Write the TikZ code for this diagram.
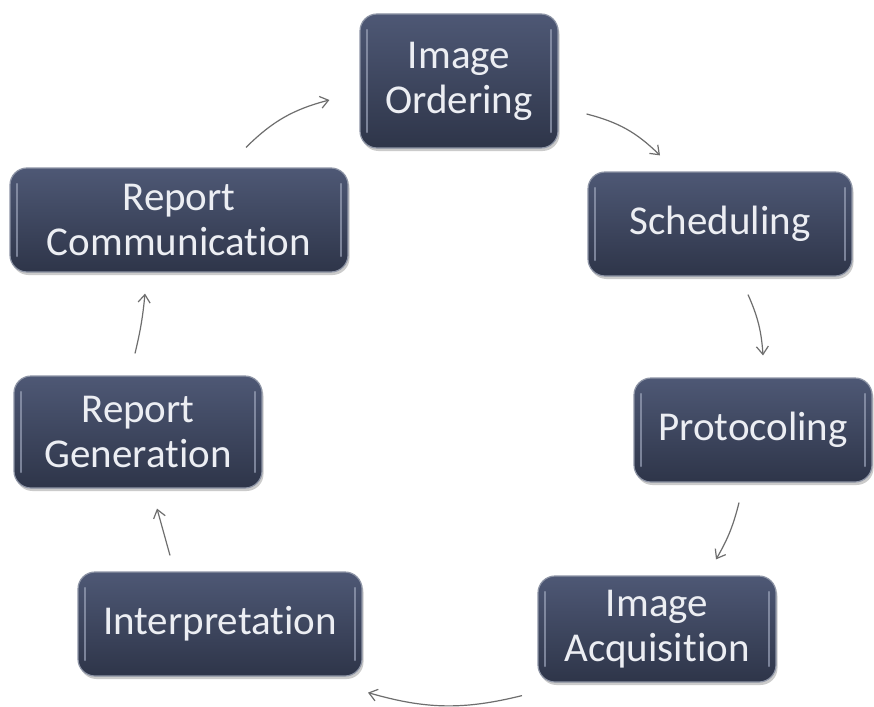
\documentclass[tikz,border=0pt]{standalone}
\usepackage{fontspec}
\setmainfont{Carlito}[Ligatures=NoCommon]
\usetikzlibrary{arrows.meta,shadows}
\definecolor{boxtop}{HTML}{4E5875}
\definecolor{boxbot}{HTML}{2E3549}
\definecolor{boxedge}{HTML}{8E95A6}
\definecolor{hilite}{HTML}{9AA2B8}
\definecolor{txt}{HTML}{ECEEF3}
\definecolor{arrgray}{HTML}{6E6E6E}
\tikzset{
  stagebox/.style={rounded corners=17pt, top color=boxtop, bottom color=boxbot,
    draw=boxedge, line width=1.2pt, text=txt, align=center,
    font=\fontsize{41}{45}\selectfont, inner sep=0pt,
    drop shadow={shadow xshift=1.5pt, shadow yshift=-3pt, fill=black!45, opacity=0.45},
    path picture={
      \draw[hilite, line width=2.2pt, opacity=0.7, line cap=round]
        ([xshift=7pt,yshift=-16pt]path picture bounding box.north west) --
        ([xshift=7pt,yshift=16pt]path picture bounding box.south west);
      \draw[hilite, line width=2.2pt, opacity=0.7, line cap=round]
        ([xshift=-7pt,yshift=-16pt]path picture bounding box.north east) --
        ([xshift=-7pt,yshift=16pt]path picture bounding box.south east);
    }},
  flow/.style={draw=arrgray, line width=1.2pt, -{Straight Barb[length=8pt,width=12pt]}}
}
\begin{document}
\begin{tikzpicture}[x=1pt,y=1pt]
\useasboundingbox[fill=white] (0,0) rectangle (874,-706);
\node[stagebox, minimum width=198pt, minimum height=134pt] (io) at (459,-81) {Image\\Ordering};
\node[stagebox, minimum width=264pt, minimum height=104pt] (s) at (720,-224) {Scheduling};
\node[stagebox, minimum width=238pt, minimum height=104pt] (p) at (753,-430) {Protocoling};
\node[stagebox, minimum width=238pt, minimum height=106pt] (ia) at (657,-629) {Image\\Acquisition};
\node[stagebox, minimum width=284pt, minimum height=104pt] (i) at (220,-624) {Interpretation};
\node[stagebox, minimum width=248pt, minimum height=112pt] (rg) at (138,-432) {Report\\Generation};
\node[stagebox, minimum width=338pt, minimum height=104pt] (rc) at (179,-220) {Report\\Communication};

\draw[flow] ([xshift=67pt,yshift=20pt]rc.north) to[bend left=15] ([xshift=-30pt,yshift=-19pt]io.west);
\draw[flow] ([xshift=28pt,yshift=-33pt]io.east) to[bend left=15] ([xshift=-60pt,yshift=16pt]s.north);
\draw[flow] ([xshift=28pt,yshift=-18pt]s.south) to[bend left=10] ([xshift=10pt,yshift=22pt]p.north);
\draw[flow] ([xshift=-14pt,yshift=-20pt]p.south) to[bend left=8] ([xshift=59pt,yshift=16pt]ia.north);
\draw[flow] ([xshift=-135pt,yshift=-13pt]ia.south) to[bend left=15] ([xshift=148pt,yshift=-16pt]i.south);
\draw[flow] ([xshift=-50pt,yshift=16pt]i.north) -- ([xshift=19pt,yshift=-20pt]rg.south);
\draw[flow] ([xshift=-3pt,yshift=22pt]rg.north) to[bend right=4] ([xshift=-34pt,yshift=-21pt]rc.south);
\end{tikzpicture}
\end{document}
